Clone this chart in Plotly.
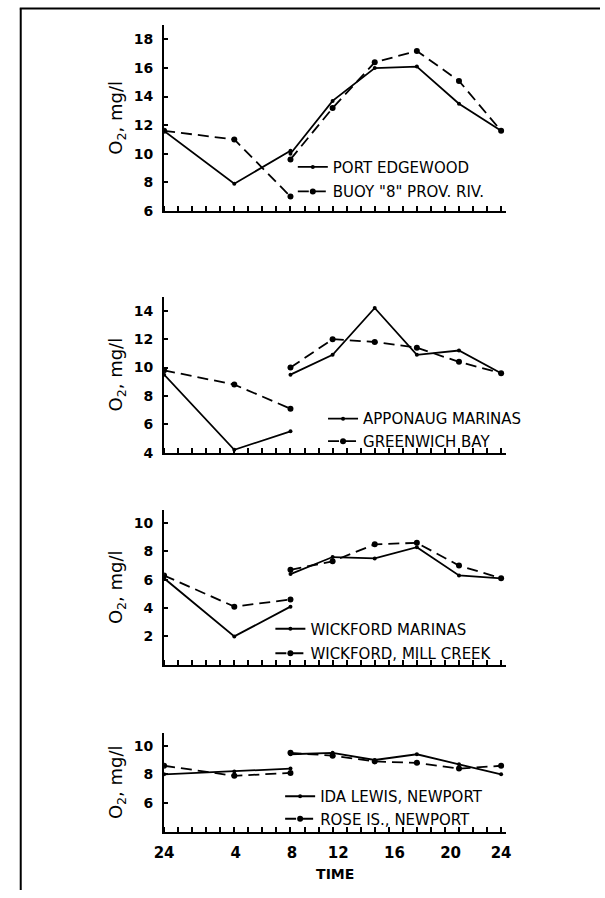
import plotly.graph_objects as go

# ---- data ----
TIME_NIGHT = [0, 5, 9]                 # hours (24 -> 0 at start)
TIME_DAY = [9, 12, 15, 18, 21, 24]
TICK_TEXT = ["24", "4", "8", "12", "16", "20", "24"]
TICK_POS = [0, 5.1, 9.1, 12.4, 16.4, 20.4, 24]

port_edgewood_n = [11.6, 7.9, 10.2]
port_edgewood_d = [10.0, 13.7, 16.0, 16.1, 13.5, 11.6]
buoy8_n = [11.6, 11.0, 7.0]
buoy8_d = [9.6, 13.2, 16.4, 17.2, 15.1, 11.6]

apponaug_n = [9.5, 4.2, 5.5]
apponaug_d = [9.5, 10.9, 14.2, 10.9, 11.2, 9.6]
greenwich_n = [9.8, 8.8, 7.1]
greenwich_d = [10.0, 12.0, 11.8, 11.4, 10.4, 9.6]

wickford_n = [6.1, 2.0, 4.1]
wickford_d = [6.4, 7.6, 7.5, 8.3, 6.3, 6.1]
millcreek_n = [6.3, 4.1, 4.6]
millcreek_d = [6.7, 7.3, 8.5, 8.6, 7.0, 6.1]

idalewis_n = [8.0, 8.2, 8.4]
idalewis_d = [9.4, 9.5, 9.0, 9.4, 8.7, 8.0]
roseis_n = [8.6, 7.9, 8.1]
roseis_d = [9.5, 9.3, 8.9, 8.8, 8.4, 8.6]

panels = [
    dict(names=["PORT EDGEWOOD", 'BUOY "8" PROV. RIV.'],
         series=[(port_edgewood_n, port_edgewood_d), (buoy8_n, buoy8_d)],
         yrange=[6, 19.03], yticks=[6, 8, 10, 12, 14, 16, 18]),
    dict(names=["APPONAUG MARINAS", "GREENWICH BAY"],
         series=[(apponaug_n, apponaug_d), (greenwich_n, greenwich_d)],
         yrange=[4, 15.0], yticks=[4, 6, 8, 10, 12, 14]),
    dict(names=["WICKFORD MARINAS", "WICKFORD, MILL CREEK"],
         series=[(wickford_n, wickford_d), (millcreek_n, millcreek_d)],
         yrange=[0, 10.94], yticks=[2, 4, 6, 8, 10]),
    dict(names=["IDA LEWIS, NEWPORT", "ROSE IS., NEWPORT"],
         series=[(idalewis_n, idalewis_d), (roseis_n, roseis_d)],
         yrange=[4, 10.9], yticks=[6, 8, 10]),
]

# ---- layout geometry (pixels in a 605x898 page) ----
W, H = 605, 898
X0, X1 = 158, 509
ydom_px = [(25, 212.7), (299.3, 456.7), (514.3, 670.7), (739.3, 839.3)]
legend_px = [(290, 152), (321, 406), (267, 618), (277, 787)]
legend_gap = [2, 0, 2, 0]

FONT = "DejaVu Sans"
fig = go.Figure()

for i, p in enumerate(panels):
    ax = "" if i == 0 else str(i + 1)
    leg = "legend" if i == 0 else f"legend{i + 1}"
    for j, (name, (vn, vd)) in enumerate(zip(p["names"], p["series"])):
        x = TIME_NIGHT + [None] + TIME_DAY
        y = vn + [None] + vd
        fig.add_trace(go.Scatter(
            x=x, y=y, name=name, mode="lines+markers",
            xaxis="x" + ax, yaxis="y" + ax, legend=leg,
            legendgroup=f"g{i}{j}",
            connectgaps=False,
            line=dict(color="black", width=1.8,
                      dash="solid" if j == 0 else "11px,6px"),
            marker=dict(color="black", size=4 if j == 0 else 6, symbol="circle"),
        ))

    top, bot = ydom_px[i]
    last = i == len(panels) - 1
    xa = dict(
        domain=[X0 / W, X1 / W], range=[0, (X1 - X0) / 14.4],
        anchor="y" + ax, showline=True, linecolor="black", linewidth=2,
        showgrid=False, zeroline=False,
        tickvals=TICK_POS, ticktext=TICK_TEXT, ticks="",
        showticklabels=last, ticklabelstandoff=6,
        tickfont=dict(family=FONT, size=15, color="black", weight="bold"),
        minor=dict(dtick=1, tick0=0, ticks="inside", ticklen=5,
                   tickwidth=1.5, tickcolor="black"),
    )
    if last:
        xa["title"] = dict(text="TIME", standoff=8,
                           font=dict(family=FONT, size=14, color="black", weight="bold"))
    ya = dict(
        domain=[1 - bot / H, 1 - top / H], range=p["yrange"],
        anchor="x" + ax, showline=True, linecolor="black", linewidth=2,
        showgrid=False, zeroline=False,
        tickvals=p["yticks"], ticks="inside", ticklen=4, tickwidth=1.5,
        tickcolor="black", ticklabelstandoff=6,
        tickfont=dict(family=FONT, size=14, color="black", weight="bold"),
        title=dict(text="O<sub>2</sub>, mg/l", standoff=6,
                   font=dict(family=FONT, size=18, color="black")),
    )
    fig.layout["xaxis" + ax] = xa
    fig.layout["yaxis" + ax] = ya

    lx, ly = legend_px[i]
    fig.layout[leg] = dict(
        x=lx / W, y=1 - ly / H, xanchor="left", yanchor="top",
        bgcolor="rgba(0,0,0,0)", borderwidth=0, tracegroupgap=legend_gap[i],
        font=dict(family=FONT, size=15, color="black"),
        itemwidth=30,
    )

# page frame (top and left border of the scanned figure)
fig.add_shape(type="line", xref="paper", yref="paper",
              x0=10 / W, x1=1, y0=1 - 8.5 / H, y1=1 - 8.5 / H,
              line=dict(color="black", width=2))
fig.add_shape(type="line", xref="paper", yref="paper",
              x0=11 / W, x1=11 / W, y0=0, y1=1 - 8.5 / H,
              line=dict(color="black", width=2))

fig.update_layout(
    width=W, height=H, margin=dict(l=0, r=0, t=0, b=0),
    paper_bgcolor="white", plot_bgcolor="white", showlegend=True,
)

fig.write_html("out.html")
